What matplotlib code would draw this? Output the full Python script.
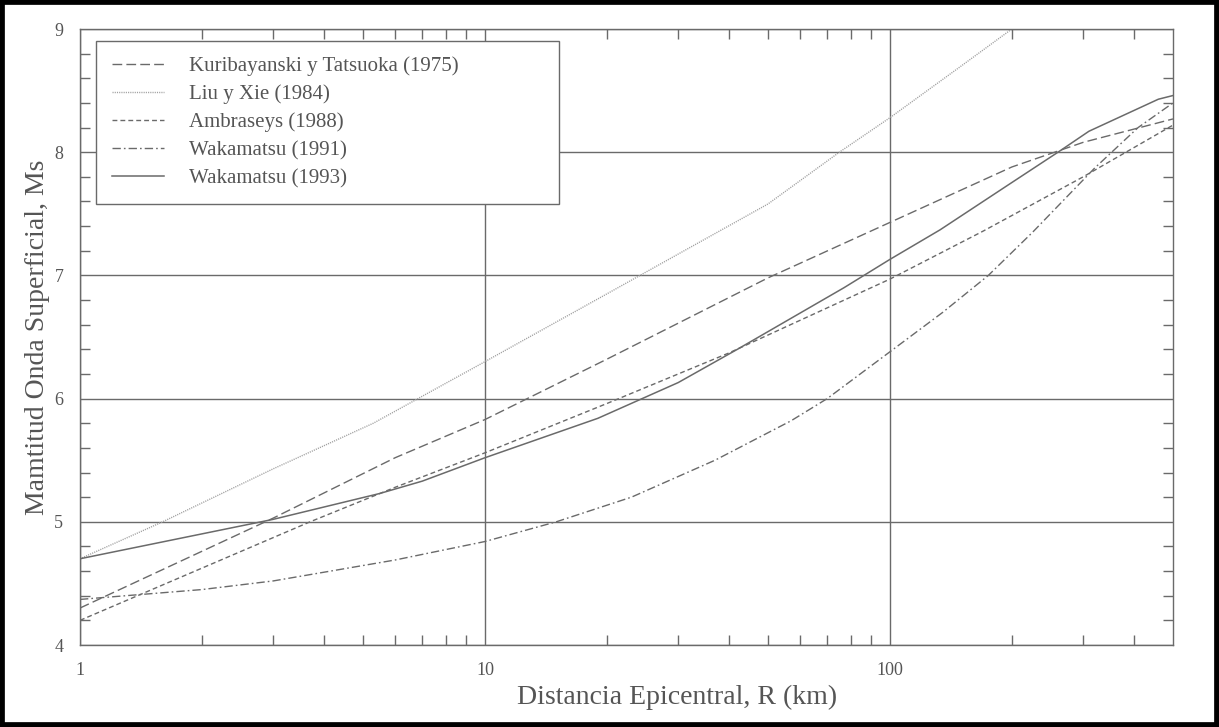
import matplotlib.pyplot as plt
import matplotlib.patches as mpatches
from matplotlib.ticker import FixedLocator, MultipleLocator, NullFormatter

plt.rcParams['font.family'] = ['Liberation Serif', 'DejaVu Serif']

# Datos (R en km, Ms)
r_kuri = [1, 3, 6, 10, 20, 50, 100, 200, 300, 500]
ms_kuri = [4.30, 5.03, 5.52, 5.83, 6.32, 6.98, 7.43, 7.88, 8.08, 8.27]

r_liu = [1, 1.6, 3, 5.3, 10, 20, 50, 75, 100, 150, 200]
ms_liu = [4.70, 5.0, 5.43, 5.80, 6.30, 6.85, 7.58, 8.0, 8.28, 8.70, 9.0]

r_ambr = [1, 3.7, 6, 10, 20, 40, 100, 170, 300, 500]
ms_ambr = [4.20, 5.0, 5.28, 5.56, 5.96, 6.37, 6.97, 7.36, 7.80, 8.22]

r_w91 = [1, 2, 3, 6, 10, 15, 23, 37, 57, 70, 100, 135, 175, 225, 320, 410, 500]
ms_w91 = [4.37, 4.45, 4.52, 4.69, 4.84, 5.0, 5.20, 5.50, 5.82, 6.0, 6.38, 6.70,
          7.0, 7.35, 7.87, 8.20, 8.40]

r_w93 = [1, 3, 5.5, 7, 10, 19, 30, 42, 77, 100, 133, 195, 260, 310, 460, 500]
ms_w93 = [4.70, 5.02, 5.23, 5.33, 5.52, 5.84, 6.13, 6.40, 6.90, 7.13, 7.37,
          7.73, 8.0, 8.17, 8.43, 8.46]

etiquetas = ['Kuribayanski y Tatsuoka (1975)', 'Liu y Xie (1984)',
             'Ambraseys (1988)', 'Wakamatsu (1991)', 'Wakamatsu (1993)']

gris = '#6a6a6a'
texto = '#555555'

fig = plt.figure(figsize=(12.19, 7.27), dpi=100)
ax = fig.add_axes([80 / 1219, 1 - 645 / 727, 1093 / 1219, 616 / 727])

ax.plot(r_kuri, ms_kuri, color=gris, lw=1.0, dashes=(7, 3), label=etiquetas[0])
ax.plot(r_liu, ms_liu, color='#a0a0a0', lw=1.0, dashes=(0.8, 0.8), label=etiquetas[1])
ax.plot(r_ambr, ms_ambr, color=gris, lw=1.0, dashes=(3.5, 2.2), label=etiquetas[2])
ax.plot(r_w91, ms_w91, color=gris, lw=1.0, dashes=(6, 2.2, 1.2, 2.2), label=etiquetas[3])
ax.plot(r_w93, ms_w93, color=gris, lw=1.1, label=etiquetas[4])

ax.set_xscale('log')
ax.set_xlim(1, 500)
ax.set_ylim(4, 9)
ax.set_xticks([1, 10, 100])
ax.set_xticklabels(['1', '10', '100'])
menores = [2, 3, 4, 5, 6, 7, 8, 9, 20, 30, 40, 50, 60, 70, 80, 90, 200, 300, 400]
ax.xaxis.set_minor_locator(FixedLocator(menores))
ax.xaxis.set_minor_formatter(NullFormatter())
ax.set_yticks(range(4, 10))
ax.yaxis.set_minor_locator(MultipleLocator(0.2))

ax.grid(True, which='major', color=gris, lw=1.0)
for s in ax.spines.values():
    s.set_color(gris)
    s.set_linewidth(1.0)

ax.tick_params(which='both', direction='in', top=True, right=True, color=gris, width=1)
ax.tick_params(which='major', length=0, pad=12, labelsize=13, labelcolor=texto)
ax.tick_params(which='minor', length=7)

ax.set_xlabel('Distancia Epicentral, R (km)', fontsize=20, color=texto)
ax.xaxis.set_label_coords(0.546, -0.064)
ax.set_ylabel('Mamtitud Onda Superficial, Ms', fontsize=20, color=texto)
ax.yaxis.set_label_coords(-0.027, 0.50)

leg = ax.legend(loc='upper left', bbox_to_anchor=(16 / 1093, 1 - 12 / 616, 463 / 1093, 0),
                mode='expand', borderaxespad=0, fontsize=15, fancybox=False,
                framealpha=1, edgecolor=gris, handlelength=2.5, handletextpad=1.2,
                labelspacing=0.4, borderpad=0.75)
leg.get_frame().set_linewidth(1.0)
for t in leg.get_texts():
    t.set_color(texto)

# marco negro del escaneo
borde = mpatches.Rectangle((0, 0), 1, 1, transform=fig.transFigure, fill=False,
                           edgecolor='black', lw=7)
fig.patches.append(borde)

fig.savefig('out.png', dpi=100)
plt.close()
